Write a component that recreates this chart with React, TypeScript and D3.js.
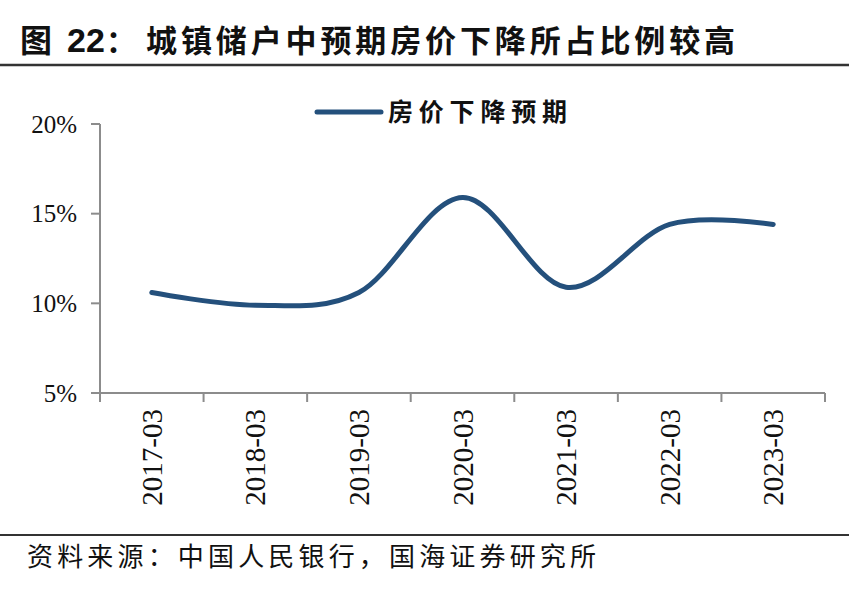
import React from "react";
import * as d3 from "d3";

const categories = ["2017-03", "2018-03", "2019-03", "2020-03", "2021-03", "2022-03", "2023-03"];
const values = [0.106, 0.099, 0.106, 0.159, 0.109, 0.144, 0.144];
const yTicks = [0.05, 0.1, 0.15, 0.2];
const seriesName = "房价下降预期";
const titleText = "城镇储户中预期房价下降所占比例较高";
const sourceText = "资料来源：中国人民银行，国海证券研究所";

export default function App() {
  const W = 849, H = 615;
  const left = 100, right = 825, top = 124, bottom = 393;
  const x = d3.scaleBand<string>().domain(categories).range([left, right]).paddingInner(0).paddingOuter(0);
  const y = d3.scaleLinear().domain([0.05, 0.2]).range([bottom, top]);
  const line = d3
    .line<number>()
    .x((_, i) => (x(categories[i]) as number) + x.bandwidth() / 2)
    .y((d) => y(d))
    .curve(d3.curveCardinal.tension(0));
  const fmt = d3.format(".0%");
  const boundaries = [...categories.map((c) => x(c) as number), right];
  const axisColor = "#8c8c8c";
  const serif = "'Liberation Serif', 'DejaVu Serif', serif";
  const cjk = "'Noto Sans CJK SC', sans-serif";

  return (
    <svg width={W} height={H} style={{ position: "absolute", left: 0, top: 0, background: "#fff" }}>
      <rect x={0} y={0} width={W} height={H} fill="#fff" />
      {/* Title */}
      <text x={20} y={52} fontFamily={cjk} fontWeight="bold" fontSize={32} fill="#111">图</text>
      <text x={67} y={52} fontFamily="'Liberation Sans', Arial, sans-serif" fontWeight="bold" fontSize={34} fill="#111">22</text>
      <text x={106} y={52} fontFamily={cjk} fontWeight="bold" fontSize={30} fill="#111">：</text>
      <text x={146} y={52} fontFamily={cjk} fontWeight="bold" fontSize={31} fill="#111" textLength={589} lengthAdjust="spacing">
        {titleText}
      </text>
      <line x1={0} x2={W} y1={65} y2={65} stroke="#333" strokeWidth={2.5} />

      {/* Legend */}
      <line x1={317} x2={381} y1={112} y2={112} stroke="#24507c" strokeWidth={5} strokeLinecap="round" />
      <text x={388} y={121} fontFamily={cjk} fontWeight="bold" fontSize={25} fill="#111" textLength={179} lengthAdjust="spacing">
        {seriesName}
      </text>

      {/* Y axis */}
      <line x1={left} x2={left} y1={top} y2={bottom} stroke={axisColor} strokeWidth={2} />
      {yTicks.map((t) => (
        <g key={t}>
          <line x1={left - 9} x2={left} y1={y(t)} y2={y(t)} stroke={axisColor} strokeWidth={2} />
          <text x={77} y={y(t)} dy="0.35em" textAnchor="end" fontFamily={serif} fontSize={25} fill="#111">
            {fmt(t)}
          </text>
        </g>
      ))}

      {/* X axis */}
      <line x1={left - 9} x2={right} y1={bottom} y2={bottom} stroke={axisColor} strokeWidth={2} />
      {boundaries.map((b, i) => (
        <line key={i} x1={b} x2={b} y1={bottom} y2={bottom + 9} stroke={axisColor} strokeWidth={2} />
      ))}
      {categories.map((c) => {
        const cx = (x(c) as number) + x.bandwidth() / 2;
        return (
          <text
            key={c}
            transform={`translate(${cx + 10},${bottom + 16}) rotate(-90)`}
            textAnchor="end"
            fontFamily={serif}
            fontSize={29}
            fill="#111"
          >
            {c}
          </text>
        );
      })}

      {/* Series */}
      <path d={line(values) || ""} fill="none" stroke="#24507c" strokeWidth={5} strokeLinecap="round" strokeLinejoin="round" />

      {/* Source */}
      <line x1={0} x2={W} y1={535} y2={535} stroke="#333" strokeWidth={2} />
      <text x={27} y={566} fontFamily={cjk} fontSize={26} fill="#111" textLength={569} lengthAdjust="spacing">
        {sourceText}
      </text>
    </svg>
  );
}
